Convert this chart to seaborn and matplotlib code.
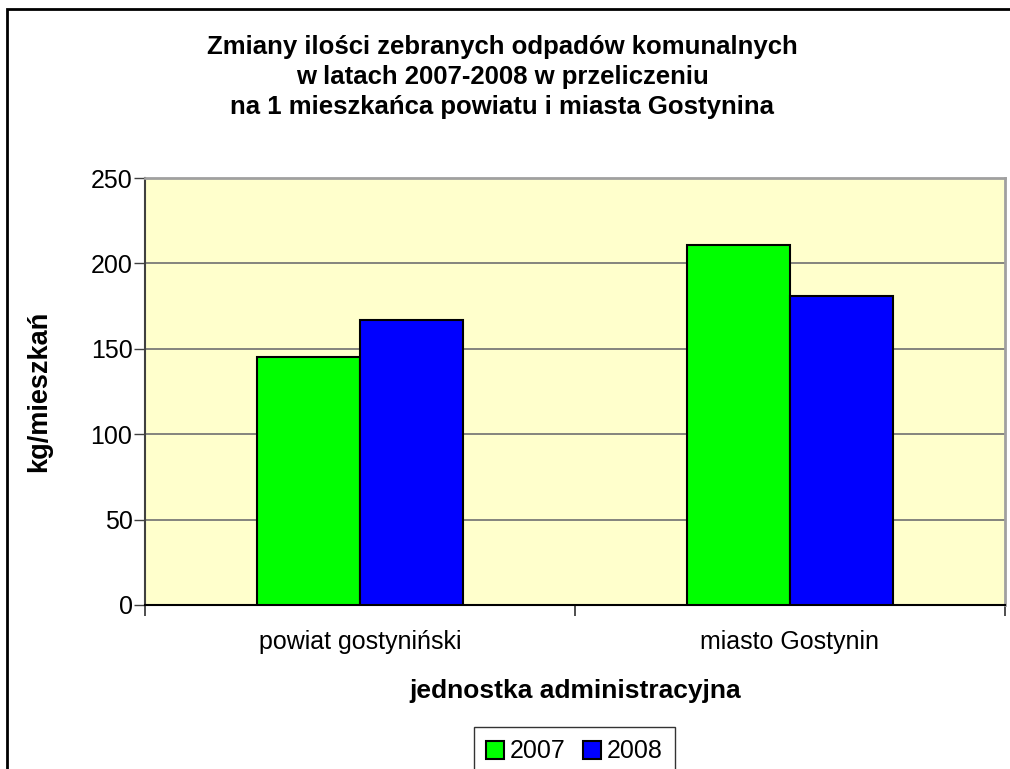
import numpy as np
import pandas as pd
import matplotlib
matplotlib.use("Agg")
import matplotlib.pyplot as plt
import seaborn as sns
from matplotlib.patches import Rectangle

# data
units = ["powiat gostyniński", "miasto Gostynin"]
years = ["2007", "2008"]
val_2007 = [145, 211]
val_2008 = [167, 181]

df = pd.DataFrame({
    "jednostka": units * 2,
    "rok": [years[0]] * 2 + [years[1]] * 2,
    "kg": val_2007 + val_2008,
})

sns.set_style("white")
plt.rcParams["font.family"] = ["Liberation Sans", "DejaVu Sans"]
plt.rcParams["text.color"] = "black"
plt.rcParams["axes.labelcolor"] = "black"
plt.rcParams["xtick.color"] = "black"
plt.rcParams["ytick.color"] = "black"

fig = plt.figure(figsize=(10.1, 7.69), dpi=100)
ax = fig.add_axes([145 / 1010, 1 - 605 / 769, (1005 - 145) / 1010, (605 - 178) / 769])
ax.set_facecolor("#FFFFCC")

sns.barplot(data=df, x="jednostka", y="kg", hue="rok", order=units, hue_order=years,
            palette={"2007": "#00FF00", "2008": "#0000FF"}, width=0.478,
            edgecolor="black", linewidth=1.5, saturation=1, ax=ax, zorder=3)

ax.set_xlim(-0.5, 1.5)
ax.set_ylim(0, 250)
ax.set_yticks(range(0, 251, 50))
ax.yaxis.grid(True, color="#707070", linewidth=1.2, zorder=0)
ax.set_axisbelow(True)

ax.tick_params(axis="y", which="major", length=8, width=1, color="#404040",
               direction="out", labelsize=18, pad=1, left=True)
ax.tick_params(axis="x", which="major", length=0, labelsize=18, pad=18)
ax.set_xticks([-0.5, 0.5, 1.5], minor=True)
ax.tick_params(axis="x", which="minor", length=8, width=1.2, color="#303030", direction="out", bottom=True)

for s in ["top", "right"]:
    ax.spines[s].set_color("#A0A0A0")
    ax.spines[s].set_linewidth(2)
ax.spines["left"].set_color("#404040")
ax.spines["left"].set_linewidth(1.5)
ax.spines["bottom"].set_color("black")
ax.spines["bottom"].set_linewidth(1.5)

ax.set_xlabel("jednostka administracyjna", fontsize=19, fontweight="bold", labelpad=18)
ax.set_ylabel("kg/mieszkań", fontsize=19.5, fontweight="bold", labelpad=28)

fig.text(0.497, 1 - 77 / 769,
         "Zmiany ilości zebranych odpadów komunalnych\nw latach 2007-2008 w przeliczeniu\nna 1 mieszkańca powiatu i miasta Gostynina",
         ha="center", va="center", fontsize=18.5, fontweight="bold", linespacing=1.33)

handles, labels = ax.get_legend_handles_labels()
ax.legend(handles, labels, loc="upper center", bbox_to_anchor=(574.5 / 1010, 1 - 727 / 769),
          bbox_transform=fig.transFigure, ncol=2, frameon=True, fancybox=False,
          edgecolor="black", fontsize=18, handlelength=0.7, handleheight=0.7,
          handletextpad=0.25, columnspacing=0.7, borderpad=0.5, borderaxespad=0)
ax.get_legend().get_frame().set_linewidth(1)

# outer chart-area border (cut off at the right and bottom)
fig.patches.append(Rectangle((7 / 1010, -0.1), 1.2, 1 - 9 / 769 + 0.1, transform=fig.transFigure,
                             fill=False, edgecolor="black", linewidth=2))

fig.savefig("out.png", dpi=100)
